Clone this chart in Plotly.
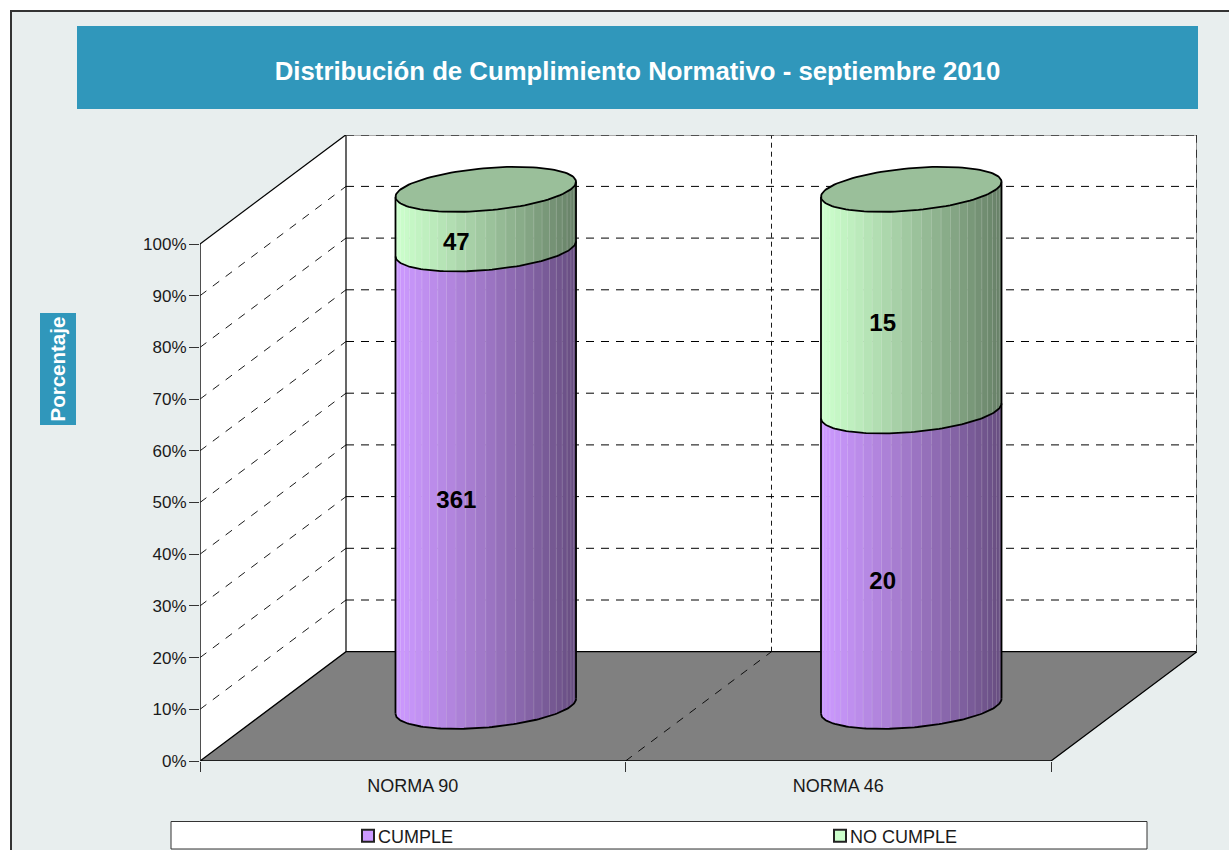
import math
import plotly.graph_objects as go

# ---- data ----
categories = ["NORMA 90", "NORMA 46"]
cumple = [361, 20]
no_cumple = [47, 15]
y_ticks = list(range(0, 101, 10))
series_names = ["CUMPLE", "NO CUMPLE"]
title_text = "Distribución de Cumplimiento Normativo - septiembre 2010"
y_title = "Porcentaje"

# ---- page geometry (pixels) ----
W, H = 1229, 850
PX_LEFT, PX_RIGHT_BACK = 200.0, 1197.0
PX_Y0, PX_Y100 = 761.0, 244.0
PX_TOP_BACK = 135.0
CAT_PX = 425.5
PCT_PX = (PX_Y0 - PX_Y100) / 100.0
DEPTH_X = 146.0 / CAT_PX      # category units for the full floor depth
DEPTH_Y = 109.3 / PCT_PX      # percent units for the full floor depth
X_MAX = (PX_RIGHT_BACK - PX_LEFT) / CAT_PX
Y_MAX = (PX_Y0 - PX_TOP_BACK) / PCT_PX
N_CAT = len(categories)

RADIUS = 0.2                  # cylinder half width, category units
RADIUS_DEPTH = 0.206          # cylinder half depth, fraction of floor depth
N_STRIPS = 28
LABEL_DEPTH = 0.29

BLACK = "#000000"
PURPLE = (204, 153, 255)
GREEN = (204, 255, 204)
TOP_GREEN = "#9ABF9A"
FLOOR = "#808080"
BG = "#E8EEEE"
BLUE = "#3097BB"
FONT = "Liberation Sans, Arial, sans-serif"


def project(cat, pct, depth):
    """Oblique projection: category position, percent height, floor depth 0..1."""
    return cat + depth * DEPTH_X, pct + depth * DEPTH_Y


def px(x):
    return x / W


def py(y):
    return 1 - y / H


fig = go.Figure()


def poly(xs, ys, fill=None, color=None, width=1.0, dash="solid", mode="lines"):
    fig.add_trace(go.Scatter(
        x=xs, y=ys, mode=mode, showlegend=False, hoverinfo="skip", cliponaxis=False,
        fill="toself" if fill else None, fillcolor=fill,
        line=dict(color=color if color else "rgba(0,0,0,0)", width=width if color else 0, dash=dash),
    ))


def seg(p, q, color=BLACK, width=1.0, dash="solid"):
    poly([p[0], q[0]], [p[1], q[1]], color=color, width=width, dash=dash)


# ---- walls and floor ----
a = project(0, 0, 0); b = project(0, 100, 0); c = project(0, 100, 1); d = project(0, 0, 1)
e = project(N_CAT, 0, 1); f = project(N_CAT, 100, 1); g = project(N_CAT, 0, 0)
poly([a[0], b[0], c[0], d[0], a[0]], [a[1], b[1], c[1], d[1], a[1]], fill="#FFFFFF")
poly([d[0], c[0], f[0], e[0], d[0]], [d[1], c[1], f[1], e[1], d[1]], fill="#FFFFFF")
poly([a[0], d[0], e[0], g[0], a[0]], [a[1], d[1], e[1], g[1], a[1]], fill=FLOOR, color=BLACK, width=1.3)

DASH_H = "8px,7px"
for t in y_ticks[1:-1]:
    seg(project(0, t, 0), project(0, t, 1), width=0.9, dash="8px,8px")
    seg(project(0, t, 1), project(N_CAT, t, 1), width=1, dash=DASH_H)
seg(project(1, 0, 0), project(1, 0, 1), width=0.9, dash="8px,8px")
seg(project(1, 0, 1), project(1, 100, 1), width=0.9, dash="5px,4px")
seg(a, b, color="#222222", width=1.6)
seg(b, c, width=1.2)
seg(c, d, width=1.2)
seg(c, f, color="#909090", width=2)
seg(f, e, color="#909090", width=2)
seg(c, f, color="#333333", width=2, dash=DASH_H)
seg(f, e, color="#333333", width=2, dash=DASH_H)


# ---- cylinders ----
def ring(cat, level, t):
    x0, y0 = project(cat + 0.5, level, 0.5)
    return (x0 + RADIUS * math.cos(t) + RADIUS_DEPTH * DEPTH_X * math.sin(t),
            y0 + RADIUS_DEPTH * DEPTH_Y * math.sin(t))


T_SIL = math.atan2(RADIUS_DEPTH * DEPTH_X, RADIUS)
T_LEFT = math.pi + T_SIL
T_RIGHT = 2 * math.pi + T_SIL
STEPS = [T_LEFT + (T_RIGHT - T_LEFT) * i / N_STRIPS for i in range(N_STRIPS + 1)]
ARC = [T_LEFT + (T_RIGHT - T_LEFT) * i / 90 for i in range(91)]
FULL = [2 * math.pi * i / 120 for i in range(121)]


def shade(rgb, frac):
    k = 1 - 0.5 * frac ** 1.15
    return "rgb(%d,%d,%d)" % tuple(round(v * k) for v in rgb)


def side(cat, lo, hi, rgb):
    xl = ring(cat, lo, T_LEFT)[0]
    xr = ring(cat, lo, T_RIGHT)[0]
    for t0, t1 in zip(STEPS[:-1], STEPS[1:]):
        p0, p1 = ring(cat, lo, t0), ring(cat, lo, t1)
        q0, q1 = ring(cat, hi, t0), ring(cat, hi, t1)
        frac = ((p0[0] + p1[0]) / 2 - xl) / (xr - xl)
        col = shade(rgb, frac)
        poly([p0[0], p1[0], q1[0], q0[0], p0[0]], [p0[1], p1[1], q1[1], q0[1], p0[1]],
             fill=col, color=col, width=0.6)
    # faint seams between strips
    sx, sy = [], []
    for t in STEPS[1:-1]:
        p, q = ring(cat, lo, t), ring(cat, hi, t)
        sx += [p[0], q[0], None]
        sy += [p[1], q[1], None]
    poly(sx, sy, color="rgba(255,255,255,0.17)", width=1)


label_x, label_y, label_text = [], [], []
for i in range(N_CAT):
    total = cumple[i] + no_cumple[i]
    split = 100.0 * cumple[i] / total
    side(i, 0, split, PURPLE)
    side(i, split, 100, GREEN)
    for level in (0, split):
        pts = [ring(i, level, t) for t in ARC]
        poly([p[0] for p in pts], [p[1] for p in pts], color=BLACK, width=1.8)
    for t in (T_LEFT, T_RIGHT):
        seg(ring(i, 0, t), ring(i, 100, t), width=1.8)
    pts = [ring(i, 100, t) for t in FULL]
    poly([p[0] for p in pts], [p[1] for p in pts], fill=TOP_GREEN, color=BLACK, width=1.8)
    for value, mid in ((cumple[i], split / 2), (no_cumple[i], (split + 100) / 2)):
        lx, ly = project(i + 0.5 + 0.003 + 0.002 * i, mid - 0.35, LABEL_DEPTH)
        label_x.append(lx); label_y.append(ly); label_text.append(str(value))

fig.add_trace(go.Scatter(
    x=label_x, y=label_y, text=label_text, mode="text", showlegend=False, hoverinfo="skip",
    textposition="middle center", textfont=dict(family=FONT, size=24, color="#000000", weight="bold"),
))

# ---- legend entries ----
for name, rgb in zip(series_names, (PURPLE, GREEN)):
    fig.add_trace(go.Scatter(
        x=[None], y=[None], mode="markers", name=name,
        marker=dict(symbol="square", size=10, color="rgb(%d,%d,%d)" % rgb,
                    line=dict(color="#222222", width=1.6)),
    ))

# ---- page furniture ----
shapes = [
    dict(type="rect", x0=px(11), x1=px(W + 20), y0=py(11), y1=py(H + 20), fillcolor=BG,
         line=dict(color="#333333", width=2), layer="below"),
    dict(type="rect", x0=px(77), x1=px(1198), y0=py(26), y1=py(109), fillcolor=BLUE,
         line=dict(width=0), layer="below"),
    dict(type="rect", x0=px(40), x1=px(76), y0=py(313), y1=py(425), fillcolor=BLUE,
         line=dict(width=0), layer="below"),
    dict(type="rect", x0=px(171), x1=px(1147), y0=py(821.5), y1=py(849), fillcolor="#FFFFFF",
         line=dict(color="#333333", width=1), layer="below"),
]
for s in shapes:
    s["xref"] = "paper"
    s["yref"] = "paper"

fig.update_layout(
    width=W, height=H,
    margin=dict(l=0, r=0, t=0, b=0, pad=0, autoexpand=False),
    paper_bgcolor="#FFFFFF", plot_bgcolor="rgba(0,0,0,0)",
    font=dict(family=FONT, color="#1A1A1A"),
    shapes=shapes,
    title=dict(text=title_text, x=637.5 / W, xref="container", xanchor="center",
               y=1 - 71 / H, yref="container", yanchor="middle",
               font=dict(family=FONT, size=25.75, color="#FFFFFF", weight="bold")),
    annotations=[dict(text=y_title, xref="paper", yref="paper", x=px(56.5), y=py(369),
                      showarrow=False, textangle=-90, xanchor="center", yanchor="middle",
                      font=dict(family=FONT, size=20.5, color="#FFFFFF", weight="bold"))],
    showlegend=True,
    legend=dict(orientation="h", x=px(338), y=py(836), xanchor="left", yanchor="middle",
                bgcolor="rgba(0,0,0,0)", borderwidth=0, font=dict(family=FONT, size=18, color="#1A1A1A"),
                entrywidth=427, entrywidthmode="pixels", itemwidth=30, traceorder="normal",
                itemsizing="constant"),
    xaxis=dict(domain=[px(PX_LEFT), px(PX_RIGHT_BACK)], range=[0, X_MAX], fixedrange=True,
               showgrid=False, zeroline=False, showline=False,
               tickmode="array", tickvals=[i + 0.5 for i in range(N_CAT)], ticktext=categories,
               ticks="", ticklen=0, tickfont=dict(family=FONT, size=18, color="#1A1A1A"),
               ticklabelstandoff=12,
               minor=dict(tickmode="array", tickvals=list(range(N_CAT + 1)), ticks="outside",
                          ticklen=10, tickwidth=1, tickcolor="#333333", showgrid=False)),
    yaxis=dict(domain=[py(PX_Y0), py(PX_TOP_BACK)], range=[0, Y_MAX], fixedrange=True,
               showgrid=False, zeroline=False, showline=False,
               tickmode="array", tickvals=y_ticks, ticktext=["%d%%" % v for v in y_ticks],
               ticks="outside", ticklen=10, tickwidth=1, tickcolor="#333333",
               ticklabelstandoff=-1,
               tickfont=dict(family=FONT, size=17, color="#1A1A1A")),
)

fig.write_html("out.html", config={"displayModeBar": False},
               post_script="document.body.style.margin='0';document.body.style.overflow='hidden';"
                           "document.querySelectorAll('.legend .legendsymbols').forEach("
                           "function(g){g.setAttribute('transform','translate(10,0)');});")
